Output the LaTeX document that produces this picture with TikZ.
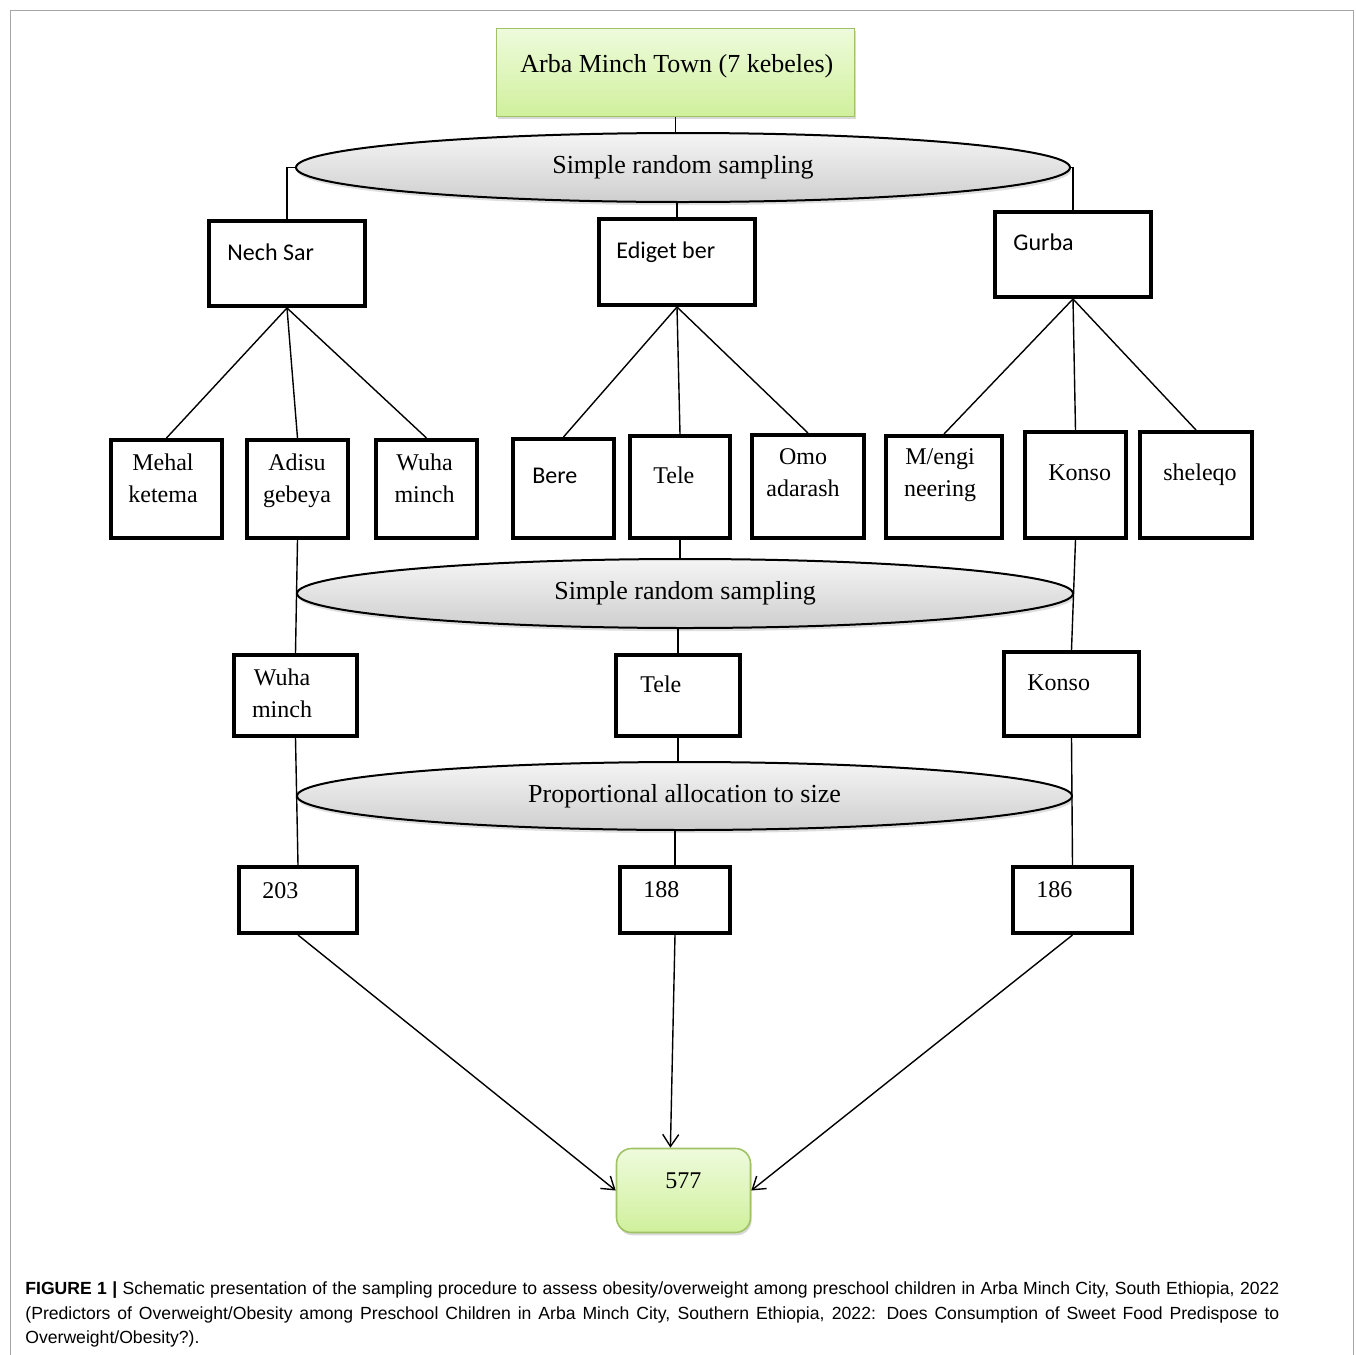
\documentclass[tikz,border=0pt]{standalone}
\usepackage{fontspec}
\setmainfont{Liberation Serif}
\newfontfamily\calibri{Carlito}
\newfontfamily\capfont{Liberation Sans}
\usetikzlibrary{arrows.meta,shapes.geometric,shadows}

\definecolor{gtop}{HTML}{EEFBDC}
\definecolor{gbot}{HTML}{D0F09C}
\definecolor{gline}{HTML}{9FC265}

\begin{document}
\begin{tikzpicture}[x=0.5pt, y=-0.5pt,
  font=\fontsize{12}{16}\selectfont,
  kbox/.style={draw, line width=2pt, inner sep=0pt},
  gbox/.style={draw=gline, line width=0.8pt, top color=gtop, bottom color=gbot,
               inner sep=0pt,
               drop shadow={shadow xshift=0.6pt, shadow yshift=-1.4pt, opacity=0.3}},
  ell/.style={ellipse, draw, line width=1pt, top color=gray!8, bottom color=gray!38,
              inner sep=0pt, font=\fontsize{13}{15}\selectfont,
              drop shadow={shadow xshift=0.6pt, shadow yshift=-1.6pt, opacity=0.25}},
  lbl/.style={inner sep=0pt, anchor=base west},
  lbltwo/.style={inner sep=0pt, anchor=north, align=center},
  sflbl/.style={lbl, font=\calibri\fontsize{12}{14}\selectfont},
  link/.style={line width=0.7pt},
  >={Straight Barb[length=6pt,width=8pt]}]
  \useasboundingbox (0,0) rectangle (1355,1355);
  % figure frame
  \draw[black!35, line width=0.5pt] (10,1360) |- (1353,10) -- (1353,1360);

  % town and first sampling stage
  \node[gbox, minimum width=179pt, minimum height=44pt] (town) at (675.5,72.5) {};
  \node[lbl, font=\fontsize{13}{15}\selectfont] (town-t) at (520,72) {Arba Minch Town (7 kebeles)};
  \node[ell, minimum width=387pt, minimum height=34.5pt] (srs1) at (683,167.5) {Simple random sampling};

  % sub-cities
  \node[kbox, minimum width=78pt, minimum height=42.5pt] (nechsar) at (287,263.5) {};
  \node[sflbl] (nechsar-t) at (227,260) {Nech Sar};
  \node[kbox, minimum width=78pt, minimum height=43pt] (ediget) at (677,262) {};
  \node[sflbl] (ediget-t) at (616,258) {Ediget ber};
  \node[kbox, minimum width=78pt, minimum height=42.5pt] (gurba) at (1073,254.5) {};
  \node[sflbl] (gurba-t) at (1013,250) {Gurba};

  % kebeles
  \node[kbox, minimum width=55.5pt, minimum height=49pt] (mehal) at (166.5,489) {};
  \node[lbltwo] (mehal-t) at (163,453.6) {Mehal\\ketema};
  \node[kbox, minimum width=50.5pt, minimum height=49pt] (adisu) at (297.5,489) {};
  \node[lbltwo] (adisu-t) at (297,453.6) {Adisu\\gebeya};
  \node[kbox, minimum width=50.5pt, minimum height=49pt] (wuha) at (426.5,489) {};
  \node[lbltwo] (wuha-t) at (424.5,453.6) {Wuha\\minch};
  \node[kbox, minimum width=50.5pt, minimum height=49.5pt] (bere) at (563.5,488.5) {};
  \node[sflbl] (bere-t) at (532,483) {Bere};
  \node[kbox, minimum width=50pt, minimum height=51pt] (tele) at (680,487) {};
  \node[lbl] (tele-t) at (653,483) {Tele};
  \node[kbox, minimum width=56pt, minimum height=51.5pt] (omo) at (808,486.5) {};
  \node[lbltwo] (omo-t) at (803,448.6) {Omo\\adarash};
  \node[kbox, minimum width=58pt, minimum height=51pt] (mengi) at (944,487) {};
  \node[lbltwo] (mengi-t) at (940,448.6) {M/engi\\neering};
  \node[kbox, minimum width=50.5pt, minimum height=53pt] (konso) at (1075.5,485) {};
  \node[lbl] (konso-t) at (1048,480) {Konso};
  \node[kbox, minimum width=56pt, minimum height=53pt] (sheleqo) at (1196,485) {};
  \node[lbl] (sheleqo-t) at (1163,480) {sheleqo};

  % second sampling stage
  \node[ell, minimum width=388pt, minimum height=34.5pt] (srs2) at (685,593.5) {Simple random sampling};
  \node[kbox, minimum width=61.5pt, minimum height=40.5pt] (wuha2) at (295.5,695.5) {};
  \node[lbltwo] (wuha2-t) at (282,668.6) {Wuha\\minch};
  \node[kbox, minimum width=62pt, minimum height=40.5pt] (tele2) at (678,695.5) {};
  \node[lbl] (tele2-t) at (640,692) {Tele};
  \node[kbox, minimum width=67.5pt, minimum height=42pt] (konso2) at (1071.5,694) {};
  \node[lbl] (konso2-t) at (1027,690) {Konso};

  % allocation
  \node[ell, minimum width=387.5pt, minimum height=34pt] (prop) at (684.5,796) {Proportional allocation to size};
  \node[kbox, minimum width=59pt, minimum height=33pt] (n203) at (298,900) {};
  \node[lbl] (n203-t) at (262,898) {203};
  \node[kbox, minimum width=55pt, minimum height=33pt] (n188) at (675,900) {};
  \node[lbl] (n188-t) at (643,897) {188};
  \node[kbox, minimum width=59.5pt, minimum height=33pt] (n186) at (1072.5,900) {};
  \node[lbl] (n186-t) at (1036,897) {186};
  \node[gbox, rounded corners=7.5pt, minimum width=67pt, minimum height=42pt] (total) at (683.5,1190.5) {};
  \node[lbl] (total-t) at (665,1188) {577};

  \draw[link] (town.south) -- (town.south |- srs1.north);
  \draw[link] (srs1.west) -| (nechsar.north);
  \draw[link] (srs1.east) -| (gurba.north);
  \draw[link] (srs1.south -| ediget.north) -- (ediget.north);
  \draw[link] (nechsar.south) -- (mehal.north);
  \draw[link] (nechsar.south) -- (adisu.north);
  \draw[link] (nechsar.south) -- (wuha.north);
  \draw[link] (ediget.south) -- (bere.north);
  \draw[link] (ediget.south) -- (tele.north);
  \draw[link] (ediget.south) -- (omo.north);
  \draw[link] (gurba.south) -- (mengi.north);
  \draw[link] (gurba.south) -- (konso.north);
  \draw[link] (gurba.south) -- (sheleqo.north);
  \draw[link] (adisu.south) -- (wuha2.north);
  \draw[link] (tele.south) -- (tele.south |- srs2.north);
  \draw[link] (srs2.south -| tele2.north) -- (tele2.north);
  \draw[link] (konso.south) -- (konso2.north);
  \draw[link] (wuha2.south) -- (n203.north);
  \draw[link] (tele2.south) -- (tele2.south |- prop.north);
  \draw[link] (prop.south -| n188.north) -- (n188.north);
  \draw[link] (konso2.south) -- (n186.north);
  \draw[link, ->] (n203.south) -- (total.west);
  \draw[link, ->] (n188.south) -- (total.107);
  \draw[link, ->] (n186.south) -- (total.east);

  % caption
  \node[lbl, font=\capfont\fontsize{8.8}{12.5}\selectfont] (cap1) at (25,1294)
    {\makebox[627pt][s]{\textbf{FIGURE 1 |} Schematic presentation of the sampling procedure to assess obesity/overweight among preschool children in Arba Minch City, South Ethiopia, 2022}};
  \node[lbl, font=\capfont\fontsize{8.8}{12.5}\selectfont] (cap2) at (25,1319)
    {\makebox[627pt][s]{(Predictors of Overweight/Obesity among Preschool Children in Arba Minch City, Southern Ethiopia, 2022: Does Consumption of Sweet Food Predispose to}};
  \node[lbl, font=\capfont\fontsize{8.8}{12.5}\selectfont] (cap3) at (25,1343)
    {Overweight/Obesity?).};
\end{tikzpicture}
\end{document}
